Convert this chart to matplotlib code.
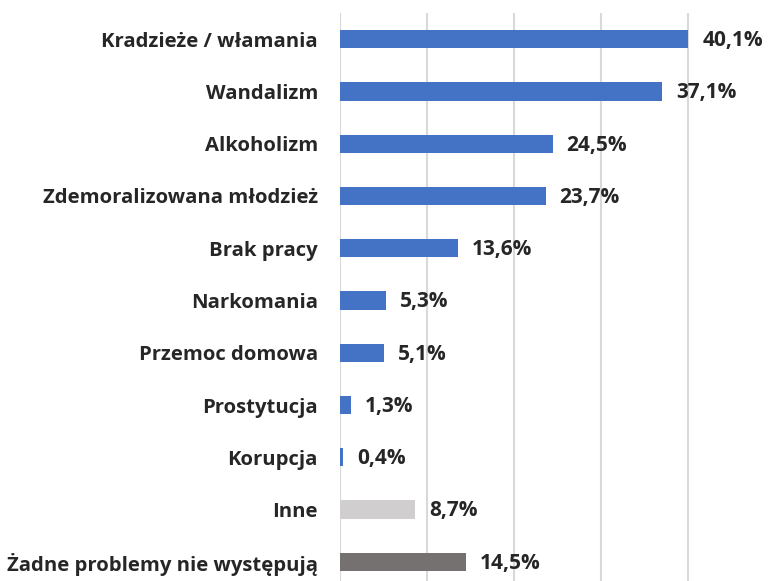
import numpy as np
import matplotlib.pyplot as plt

plt.rcParams['font.family'] = ['Open Sans', 'DejaVu Sans']

categories = ['Kradzieże / włamania', 'Wandalizm', 'Alkoholizm', 'Zdemoralizowana młodzież',
              'Brak pracy', 'Narkomania', 'Przemoc domowa', 'Prostytucja', 'Korupcja',
              'Inne', 'Żadne problemy nie występują']
values = [40.1, 37.1, 24.5, 23.7, 13.6, 5.3, 5.1, 1.3, 0.4, 8.7, 14.5]
labels = ['40,1%', '37,1%', '24,5%', '23,7%', '13,6%', '5,3%', '5,1%', '1,3%', '0,4%', '8,7%', '14,5%']
colors = ['#4472C4'] * 9 + ['#D0CECE', '#767171']

fig = plt.figure(figsize=(7.69, 5.81), dpi=100)
# oś wychodzi poza dolną i prawą krawędź, jak w oryginale
ax = fig.add_axes([339.5 / 769, 1 - 588 / 581, (774.5 - 339.5) / 769, (588 - 13) / 581])

y = np.arange(len(categories))
ax.barh(y, values, height=0.35, color=colors, zorder=3)
for yi, v, lab in zip(y, values, labels):
    ax.annotate(lab, (v, yi), xytext=(10, -1), textcoords='offset points',
                va='center', ha='left', fontsize=15, fontweight='bold', color='#262626')

ax.set_xlim(0, 50)
ax.set_ylim(len(categories) - 0.5, -0.5)
ax.set_yticks(y)
ax.set_yticklabels(categories, fontsize=14.6, fontweight='bold', color='#262626')
ax.tick_params(axis='y', length=0, pad=15.5)
ax.set_xticks([0, 10, 20, 30, 40, 50])
ax.tick_params(axis='x', length=0, labelbottom=False)
ax.grid(axis='x', color='#D9D9D9', linewidth=1.5, zorder=0)
for s in ax.spines.values():
    s.set_visible(False)

fig.savefig('out.png', dpi=100)
